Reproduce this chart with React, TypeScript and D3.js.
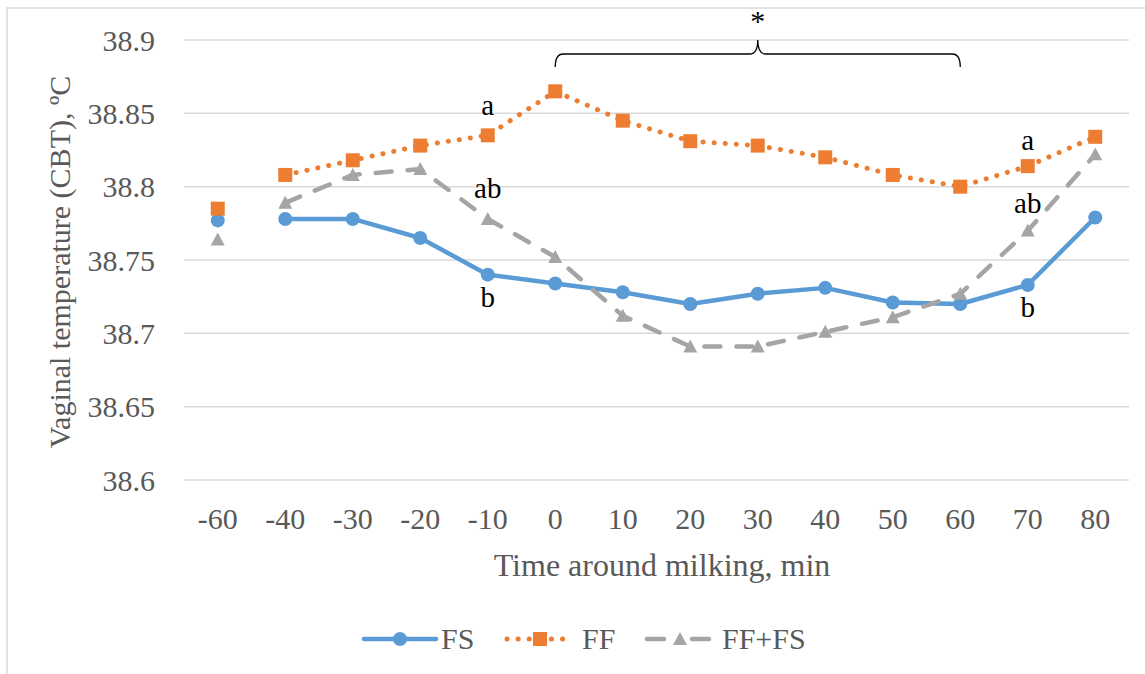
import React from "react";
import * as d3 from "d3";

const categories = ["-60", "-40", "-30", "-20", "-10", "0", "10", "20", "30", "40", "50", "60", "70", "80"];
const fsValues = [38.777, 38.778, 38.778, 38.765, 38.740, 38.734, 38.728, 38.720, 38.727, 38.731, 38.721, 38.720, 38.733, 38.779];
const ffValues = [38.785, 38.808, 38.818, 38.828, 38.835, 38.865, 38.845, 38.831, 38.828, 38.820, 38.808, 38.800, 38.814, 38.834];
const fffsValues = [38.764, 38.789, 38.808, 38.812, 38.778, 38.752, 38.712, 38.691, 38.691, 38.701, 38.711, 38.727, 38.770, 38.822];
const yTicks = [38.6, 38.65, 38.7, 38.75, 38.8, 38.85, 38.9];
const yTickLabels = ["38.6", "38.65", "38.7", "38.75", "38.8", "38.85", "38.9"];
const letters = [
  { cat: "-10", text: "a", v: 38.849 },
  { cat: "-10", text: "ab", v: 38.792 },
  { cat: "-10", text: "b", v: 38.718 },
  { cat: "70", text: "a", v: 38.825 },
  { cat: "70", text: "ab", v: 38.782 },
  { cat: "70", text: "b", v: 38.711 },
];
const bracketFrom = "0";
const bracketTo = "60";

const BLUE = "#5B9BD5";
const ORANGE = "#ED7D31";
const GRAY = "#A5A5A5";
const TXT = "#595959";
const FONT = "'Liberation Serif', 'Times New Roman', serif";

export default function App() {
  const x = d3.scaleBand<string>().domain(categories).range([184, 1129]);
  const cx = (c: string) => (x(c) as number) + x.bandwidth() / 2;
  const y = d3.scaleLinear().domain([38.6, 38.9]).range([480, 40]);

  const line = d3
    .line<number>()
    .defined((_, i) => i > 0)
    .x((_, i) => cx(categories[i]))
    .y((d) => y(d));

  const tri = (px: number, py: number, s = 7) =>
    `M${px},${py - s}L${px + s},${py + s * 0.85}L${px - s},${py + s * 0.85}Z`;

  const bx0 = cx(bracketFrom);
  const bx1 = cx(bracketTo);
  const bm = (bx0 + bx1) / 2;
  const bracket = `M${bx0},67 Q${bx0},54 ${bx0 + 8},54 L${bm - 8},54 Q${bm},54 ${bm},40 Q${bm},54 ${bm + 8},54 L${bx1 - 8},54 Q${bx1},54 ${bx1},67`;

  return (
    <svg width={1145} height={674} style={{ position: "absolute", left: 0, top: 0, background: "#fff" }} fontFamily={FONT}>
      <rect x={7} y={8} width={1200} height={700} fill="#fff" stroke="#D9D9D9" strokeWidth={1.5} />
      {yTicks.map((t, i) => (
        <g key={i}>
          <line x1={184} x2={1129} y1={y(t)} y2={y(t)} stroke="#D9D9D9" strokeWidth={1.5} />
          <text x={155} y={y(t)} dy="0.35em" textAnchor="end" fontSize={30} fill={TXT}>
            {yTickLabels[i]}
          </text>
        </g>
      ))}
      {categories.map((c) => (
        <text key={c} x={cx(c)} y={529} textAnchor="middle" fontSize={30} fill={TXT}>
          {c}
        </text>
      ))}
      <text x={662} y={576} textAnchor="middle" fontSize={32} fill={TXT}>
        Time around milking, min
      </text>
      <text transform={`translate(70,262) rotate(-90)`} textAnchor="middle" fontSize={30} fill={TXT}>
        Vaginal temperature (CBT), ºC
      </text>

      {/* FS */}
      <path d={line(fsValues) || ""} fill="none" stroke={BLUE} strokeWidth={4.5} strokeLinejoin="round" />
      {fsValues.map((v, i) => (
        <circle key={i} cx={cx(categories[i])} cy={y(v)} r={7} fill={BLUE} />
      ))}
      {/* FF */}
      <path
        d={line(ffValues) || ""}
        fill="none"
        stroke={ORANGE}
        strokeWidth={5}
        strokeDasharray="0.1 11"
        strokeLinecap="round"
      />
      {ffValues.map((v, i) => (
        <rect key={i} x={cx(categories[i]) - 7} y={y(v) - 7} width={14} height={14} fill={ORANGE} />
      ))}
      {/* FF+FS */}
      <path
        d={line(fffsValues) || ""}
        fill="none"
        stroke={GRAY}
        strokeWidth={4.5}
        strokeDasharray="16 16"
        strokeLinecap="round"
        strokeLinejoin="round"
      />
      {fffsValues.map((v, i) => (
        <path key={i} d={tri(cx(categories[i]), y(v))} fill={GRAY} />
      ))}

      {letters.map((l, i) => (
        <text key={i} x={cx(l.cat)} y={y(l.v)} textAnchor="middle" fontSize={29} fill="#000">
          {l.text}
        </text>
      ))}
      <path d={bracket} fill="none" stroke="#000" strokeWidth={1.3} />
      <text x={bm} y={31} textAnchor="middle" fontSize={30} fill="#000">
        *
      </text>

      {/* Legend */}
      <g>
        <line x1={364} x2={436} y1={639} y2={639} stroke={BLUE} strokeWidth={4.5} strokeLinecap="round" />
        <circle cx={400} cy={639} r={7} fill={BLUE} />
        <text x={441} y={649} fontSize={30} fill={TXT}>FS</text>
        <line x1={507} x2={572} y1={639} y2={639} stroke={ORANGE} strokeWidth={5} strokeDasharray="0.1 11" strokeLinecap="round" />
        <rect x={533} y={632} width={14} height={14} fill={ORANGE} />
        <text x={582} y={649} fontSize={30} fill={TXT}>FF</text>
        <line x1={647} x2={664} y1={639} y2={639} stroke={GRAY} strokeWidth={4.5} strokeLinecap="round" />
        <line x1={692} x2={709} y1={639} y2={639} stroke={GRAY} strokeWidth={4.5} strokeLinecap="round" />
        <path d={tri(680, 639)} fill={GRAY} />
        <text x={722} y={649} fontSize={30} fill={TXT}>FF+FS</text>
      </g>
    </svg>
  );
}
